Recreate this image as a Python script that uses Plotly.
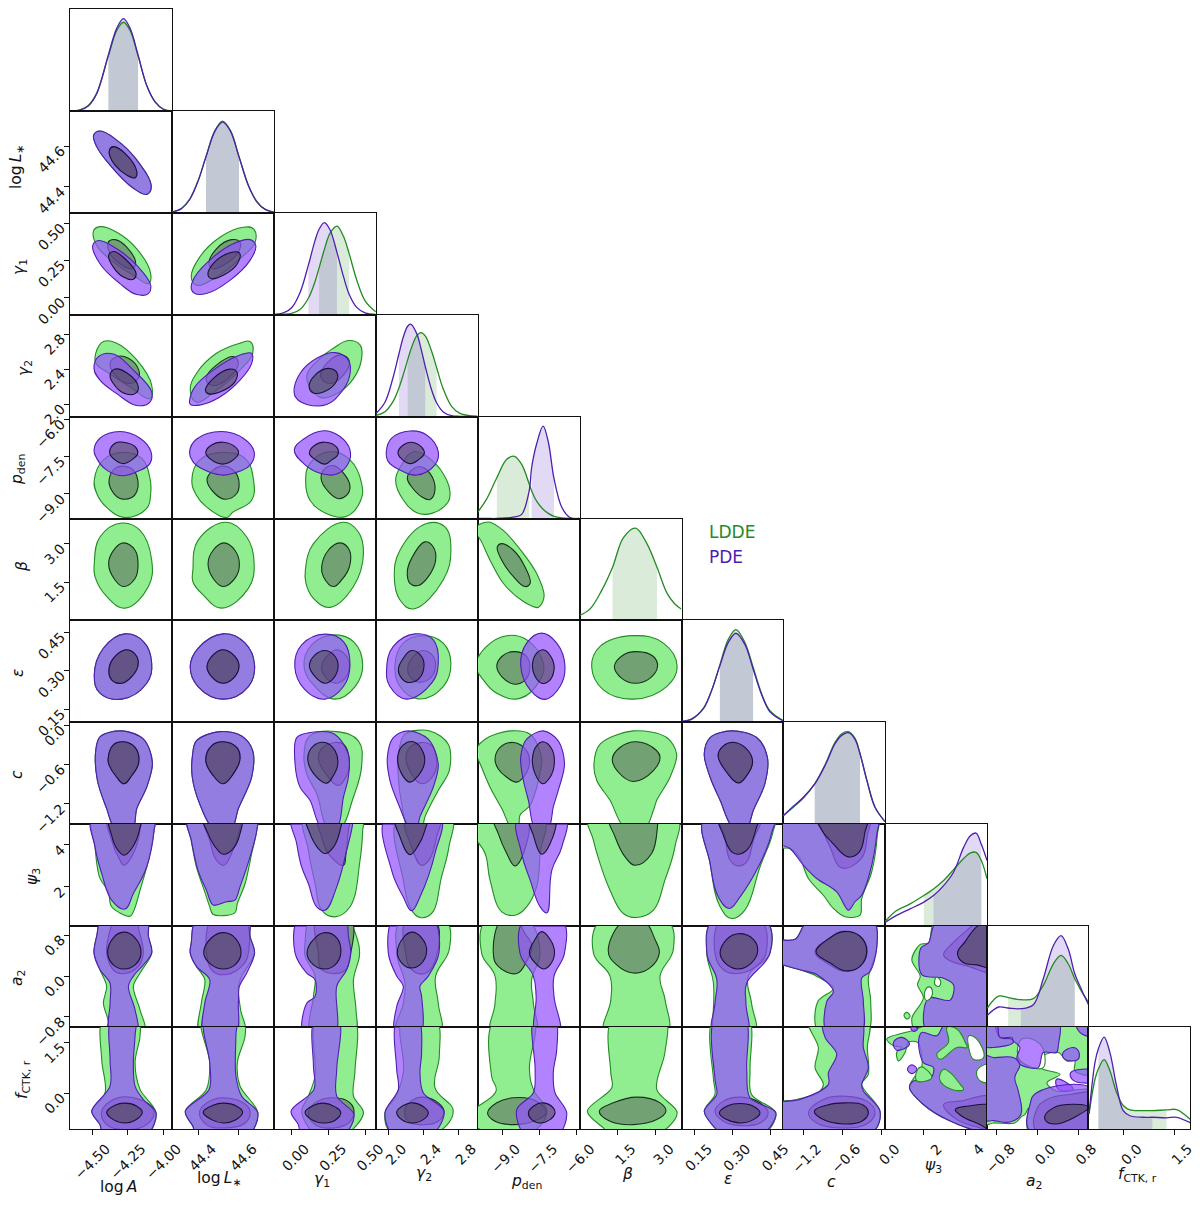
import plotly.graph_objects as go

# ---------- parameters, axis ranges, ticks ----------
params = ["A", "Ls", "g1", "g2", "p", "b", "e", "c", "psi", "a2", "f"]
lo_vals = [-4.655, 44.273, -0.114, 1.859, -9.985, 0.004, 0.101, -1.505, 0.157, -0.996, -1.07]
hi_vals = [-3.937, 44.771, 0.569, 3.023, -5.887, 4.0, 0.498, 0.05, 5.0, 0.99, 1.97]
tick_vals = [[-4.5, -4.25, -4.0], [44.4, 44.6], [0, 0.25, 0.5], [2.0, 2.4, 2.8], [-9, -7.5, -6],
             [1.5, 3.0], [0.15, 0.30, 0.45], [-1.2, -0.6, 0], [2, 4], [-0.8, 0, 0.8], [0, 1.5]]
tick_text = [["−4.50", "−4.25", "−4.00"], ["44.4", "44.6"], ["0.00", "0.25", "0.50"], ["2.0", "2.4", "2.8"],
             ["−9.0", "−7.5", "−6.0"], ["1.5", "3.0"], ["0.15", "0.30", "0.45"], ["−1.2", "−0.6", "0.0"],
             ["2", "4"], ["−0.8", "0.0", "0.8"], ["0.0", "1.5"]]
labels = ["log\u2009<i>A</i>", "log\u2009<i>L</i><sub>∗</sub>", "<i>γ</i><sub>1</sub>", "<i>γ</i><sub>2</sub>",
          "<i>p</i><sub>den</sub>", "<i>β</i>", "<i>ε</i>", "<i>c</i>", "<i>ψ</i><sub>3</sub>",
          "<i>a</i><sub>2</sub>", "<i>f</i><sub>CTK, r</sub>"]
x_label_pos = [(118, 1187), (219, 1179), (322, 1180), (424, 1174), (526, 1182), (627, 1174), (728, 1179),
               (831, 1182), (933, 1166), (1034, 1182), (1137, 1175)]
y_label_pos = [None, (17, 167), (20, 267), (25, 368), (18, 470), (22, 567), (18, 673), (17, 775), (33, 877),
               (18, 978), (23, 1080)]

# ---------- marginals: shared x grid, LDDE and PDE density, 16-84% bands ----------
X_A = [-4.65, -4.584, -4.526, -4.467, -4.385, -4.326, -4.279, -4.232, -4.176, -4.115, -4.056, -4.0, -3.94]
LD_A = [0, .012, .055, .175, .54, .79, .87, .79, .54, .25, .09, .02, 0]
PD_A = [0, .01, .05, .17, .55, .81, .905, .81, .55, .25, .09, .02, 0]
X_Ls = [44.274, 44.319, 44.359, 44.4, 44.439, 44.482, 44.52, 44.559, 44.6, 44.646, 44.687, 44.728, 44.772]
LD_Ls = [.01, .045, .135, .315, .555, .805, .9, .805, .555, .27, .115, .035, .008]
PD_Ls = [.01, .043, .13, .31, .55, .8, .89, .8, .55, .27, .11, .035, .008]
X_g1 = [-.112, -.051, .004, .06, .116, .161, .188, .223, .261, .308, .351, .389, .44, .496, .567]
LD_g1 = [0, .002, .011, .049, .16, .325, .46, .64, .8, .87, .77, .6, .34, .135, .026]
PD_g1 = [0, .015, .067, .215, .486, .73, .84, .905, .835, .61, .375, .2, .07, .016, .001]
X_g2 = [1.859, 1.962, 2.057, 2.122, 2.172, 2.222, 2.256, 2.325, 2.374, 2.424, 2.497, 2.554, 2.63, 2.726, 2.821, 3.024]
LD_g2 = [.01, .046, .15, .28, .41, .555, .65, .79, .823, .79, .64, .48, .27, .1, .03, 0]
PD_g2 = [.03, .14, .39, .615, .78, .885, .905, .815, .67, .49, .26, .135, .045, .008, .002, 0]
X_p = [-9.98, -9.62, -9.21, -8.81, -8.5, -8.21, -7.91, -7.81, -7.61, -7.35, -7.14, -6.91, -6.6, -6.27, -5.89]
LD_p = [.06, .19, .4, .58, .61, .53, .34, .27, .17, .09, .05, .02, .005, 0, 0]
PD_p = [0, 0, 0, .005, .015, .04, .27, .5, .73, .905, .75, .39, .11, .01, 0]
X_b = [.01, .42, .87, 1.3, 1.72, 2.2, 2.63, 3.04, 3.42, 3.74, 3.99]
LD_b = [.046, .11, .29, .52, .81, .905, .76, .52, .27, .157, .108]
PD_b = None
X_e = [.101, .141, .187, .219, .251, .284, .314, .349, .381, .414, .447, .499]
LD_e = [.004, .026, .13, .31, .56, .81, .905, .78, .54, .28, .11, .013]
PD_e = [.006, .03, .135, .31, .55, .78, .87, .76, .52, .27, .1, .01]
X_c = [-1.5, -1.347, -1.194, -1.022, -.864, -.712, -.61, -.509, -.407, -.331, -.219, -.102, .05]
LD_c = [.082, .165, .255, .39, .58, .8, .885, .905, .84, .69, .41, .164, .023]
PD_c = [.082, .174, .262, .393, .574, .787, .869, .895, .83, .689, .41, .164, .023]
X_psi = [.16, .71, 1.35, 2.0, 2.46, 2.94, 3.41, 3.89, 4.21, 4.48, 4.73, 5.0]
LD_psi = [.04, .147, .213, .295, .36, .443, .55, .66, .715, .72, .64, .46]
PD_psi = [.03, .1, .164, .23, .295, .393, .525, .77, .885, .91, .80, .64]
X_a2 = [-.99, -.77, -.58, -.33, -.085, .11, .31, .46, .6, .73, .87, 1.0]
LD_a2 = [.187, .305, .289, .269, .279, .41, .623, .705, .623, .475, .344, .246]
PD_a2 = [.115, .197, .187, .18, .22, .475, .803, .9, .77, .525, .36, .22]
X_f = [-1.04, -.86, -.76, -.59, -.42, -.22, -.02, .18, .58, .85, 1.27, 1.57, 1.99]
LD_f = [.148, .49, .59, .68, .574, .36, .23, .187, .18, .18, .187, .19, .09]
PD_f = [.148, .656, .787, .9, .754, .426, .18, .13, .115, .115, .11, .115, .06]

band_L = [(-4.385, -4.176), (44.439, 44.6), (.188, .389), (2.222, 2.554), (-9.21, -7.91), (1.3, 3.04),
          (.251, .381), (-1.022, -.331), (2.0, 4.73), (-.58, .73), (-.76, 1.27)]
band_P = [(-4.385, -4.176), (44.439, 44.6), (.116, .308), (2.122, 2.424), (-7.81, -6.91), None,
          (.251, .381), (-1.022, -.331), (2.46, 4.73), (-.33, .73), (-.76, .85)]

# ---------- joint contours, flat x,y pairs in data units: model + level + row + column ----------
L95_Ls_A = [-4.488,44.654, -4.444,44.673, -4.326,44.629, -4.185,44.532, -4.083,44.401, -4.115,44.364, -4.211,44.395, -4.373,44.507, -4.467,44.597]
L68_Ls_A = [-4.378,44.58, -4.35,44.597, -4.268,44.564, -4.185,44.475, -4.197,44.445, -4.256,44.458, -4.338,44.507, -4.373,44.548]
P95_Ls_A = L95_Ls_A
P68_Ls_A = L68_Ls_A

L95_g1_A = [-4.488,.451, -4.444,.477, -4.326,.44, -4.185,.328, -4.087,.161, -4.103,.094, -4.209,.15, -4.35,.239, -4.467,.35]
L68_g1_A = [-4.385,.373, -4.338,.39, -4.256,.339, -4.193,.228, -4.22,.194, -4.303,.228, -4.373,.295]
P95_g1_A = [-4.495,.35, -4.455,.384, -4.326,.328, -4.185,.217, -4.087,.083, -4.103,.027, -4.185,.02, -4.303,.094, -4.444,.228]
P68_g1_A = [-4.383,.283, -4.35,.31, -4.268,.261, -4.19,.161, -4.209,.123, -4.279,.138, -4.35,.205]
L95_g1_Ls = [44.367,.138, 44.408,.272, 44.507,.406, 44.621,.473, 44.671,.462, 44.679,.373, 44.605,.261, 44.49,.138, 44.392,.083]
L68_g1_Ls = [44.454,.228, 44.49,.328, 44.564,.39, 44.605,.373, 44.592,.295, 44.523,.217, 44.474,.194]
P95_g1_Ls = [44.367,.06, 44.384,.138, 44.474,.272, 44.572,.362, 44.654,.39, 44.682,.35, 44.654,.25, 44.556,.116, 44.441,.027, 44.384,.027]
P68_g1_Ls = [44.449,.15, 44.474,.228, 44.556,.301, 44.602,.301, 44.592,.228, 44.523,.15, 44.466,.127]

L95_g2_A = [-4.474,2.58, -4.42,2.715, -4.326,2.696, -4.185,2.504, -4.08,2.216, -4.092,2.062, -4.232,2.196, -4.397,2.369, -4.472,2.465]
L68_g2_A = [-4.373,2.465, -4.326,2.542, -4.244,2.523, -4.171,2.388, -4.176,2.29, -4.244,2.235, -4.326,2.31]
P95_g2_A = [-4.486,2.408, -4.455,2.542, -4.35,2.573, -4.209,2.388, -4.08,2.139, -4.092,2.024, -4.185,1.985, -4.326,2.12, -4.444,2.273]
P68_g2_A = [-4.373,2.331, -4.338,2.4, -4.256,2.358, -4.174,2.196, -4.197,2.12, -4.279,2.127, -4.35,2.235]
L95_g2_Ls = [44.362,2.158, 44.392,2.35, 44.49,2.58, 44.605,2.696, 44.654,2.715, 44.667,2.58, 44.605,2.388, 44.49,2.158, 44.392,2.024]
L68_g2_Ls = [44.441,2.312, 44.49,2.446, 44.572,2.542, 44.597,2.465, 44.564,2.33, 44.49,2.216, 44.449,2.235]
P95_g2_Ls = [44.359,2.043, 44.384,2.196, 44.474,2.388, 44.605,2.561, 44.662,2.58, 44.662,2.465, 44.605,2.273, 44.507,2.081, 44.408,1.989, 44.362,1.997]
P68_g2_Ls = [44.436,2.158, 44.474,2.292, 44.556,2.4, 44.589,2.369, 44.58,2.254, 44.507,2.139, 44.449,2.12]
L95_g2_g1 = [.105,2.31, .194,2.523, .284,2.638, .384,2.726, .462,2.676, .473,2.523, .418,2.292, .306,2.12, .194,2.08]
L68_g2_g1 = [.199,2.31, .25,2.484, .339,2.561, .391,2.484, .351,2.331, .261,2.235]
P95_g2_g1 = [.02,2.139, .06,2.35, .172,2.523, .295,2.588, .384,2.504, .391,2.312, .328,2.12, .239,1.997, .105,1.997, .038,2.062]
P68_g2_g1 = [.121,2.196, .161,2.331, .25,2.408, .31,2.35, .295,2.235, .217,2.139, .15,2.127]

L95_p_A = [-4.484,-8.44, -4.42,-7.63, -4.279,-7.33, -4.15,-7.57, -4.092,-8.37, -4.087,-8.98, -4.115,-9.58, -4.268,-9.95, -4.397,-9.54, -4.467,-8.98]
L68_p_A = [-4.38,-8.44, -4.338,-7.97, -4.279,-7.88, -4.209,-8.04, -4.176,-8.51, -4.185,-8.91, -4.22,-9.14, -4.303,-9.18, -4.362,-8.85]
P95_p_A = [-4.486,-7.23, -4.444,-6.76, -4.303,-6.49, -4.162,-6.76, -4.085,-7.3, -4.092,-7.77, -4.185,-8.11, -4.279,-8.27, -4.397,-8.04, -4.467,-7.57]
P68_p_A = [-4.376,-7.34, -4.338,-6.96, -4.279,-6.92, -4.197,-7.1, -4.178,-7.37, -4.22,-7.63, -4.279,-7.78, -4.338,-7.63]
L95_p_Ls = [44.37,-8.44, 44.408,-7.63, 44.523,-7.33, 44.63,-7.57, 44.671,-8.44, 44.662,-9.25, 44.572,-9.72, 44.539,-9.95, 44.441,-9.52, 44.392,-9.05]
L68_p_Ls = [44.444,-8.44, 44.474,-8.04, 44.526,-7.88, 44.58,-8.11, 44.6,-8.51, 44.589,-8.98, 44.531,-9.21, 44.482,-8.98]
P95_p_Ls = [44.359,-7.3, 44.392,-6.8, 44.515,-6.49, 44.621,-6.76, 44.674,-7.3, 44.654,-7.84, 44.572,-8.17, 44.515,-8.24, 44.425,-8.01, 44.375,-7.7]
P68_p_Ls = [44.438,-7.34, 44.466,-7.03, 44.523,-6.92, 44.58,-7.1, 44.598,-7.34, 44.572,-7.63, 44.52,-7.8, 44.466,-7.63]
L95_p_g1 = [.098,-8.44, .127,-7.77, .261,-7.3, .395,-7.63, .473,-8.58, .467,-9.25, .373,-9.89, .239,-9.79, .127,-9.25]
L68_p_g1 = [.201,-8.37, .228,-7.97, .284,-7.86, .362,-8.24, .395,-8.71, .373,-9.05, .317,-9.19, .25,-8.91]
P95_p_g1 = [.022,-7.23, .083,-6.8, .217,-6.46, .328,-6.69, .395,-7.23, .384,-7.77, .306,-8.2, .194,-8.17, .083,-7.77]
P68_p_g1 = [.123,-7.37, .161,-7.03, .228,-6.92, .306,-7.12, .313,-7.43, .272,-7.63, .228,-7.8, .161,-7.61]
L95_p_g2 = [2.084,-8.44, 2.153,-7.83, 2.287,-7.3, 2.516,-7.70, 2.669,-8.44, 2.707,-8.91, 2.688,-9.31, 2.5,-9.78, 2.325,-9.75, 2.172,-9.24]
L68_p_g2 = [2.218,-8.37, 2.267,-8.04, 2.363,-7.9, 2.478,-8.17, 2.535,-8.84, 2.478,-9.22, 2.382,-9.11, 2.267,-8.71]
P95_p_g2 = [1.977,-7.3, 2.038,-6.76, 2.248,-6.47, 2.439,-6.63, 2.573,-7.3, 2.535,-7.83, 2.325,-8.24, 2.134,-8.04, 2.0,-7.7]
P68_p_g2 = [2.111,-7.34, 2.172,-7.03, 2.267,-6.92, 2.382,-7.12, 2.413,-7.37, 2.344,-7.63, 2.248,-7.78, 2.153,-7.59]

L95_b_A = [-4.484,2.23, -4.444,3.27, -4.291,3.82, -4.162,3.53, -4.08,2.36, -4.103,1.32, -4.268,.47, -4.397,.93, -4.479,1.71]
L68_b_A = [-4.383,2.23, -4.338,2.82, -4.279,3.04, -4.197,2.75, -4.176,2.17, -4.197,1.64, -4.279,1.32, -4.338,1.58]
L95_b_Ls = [44.375,1.97, 44.4,3.14, 44.539,3.85, 44.638,3.27, 44.674,2.23, 44.646,1.25, 44.515,.47, 44.425,.99, 44.375,1.51]
L68_b_Ls = [44.449,2.23, 44.474,2.75, 44.526,3.04, 44.58,2.75, 44.602,2.17, 44.58,1.64, 44.523,1.32, 44.474,1.64]
L95_b_g1 = [.096,1.97, .15,3.01, .351,3.85, .451,3.47, .485,2.62, .418,1.32, .261,.5, .15,.86, .1,1.45]
L68_b_g1 = [.205,2.1, .25,2.75, .328,3.04, .391,2.75, .391,2.1, .339,1.58, .284,1.32, .217,1.71]
L95_b_g2 = [2.069,1.71, 2.134,2.75, 2.439,3.8, 2.649,3.67, 2.718,2.75, 2.63,1.58, 2.287,.44, 2.134,.79]
L68_b_g2 = [2.218,1.9, 2.267,2.43, 2.42,3.08, 2.516,2.88, 2.543,2.36, 2.459,1.71, 2.344,1.36, 2.248,1.45]
L95_b_p = [-10.1,3.6, -9.55,3.86, -8.95,3.53, -8.14,2.62, -7.61,1.84, -7.31,.93, -7.54,.5, -8.14,.73, -8.95,1.45, -9.48,2.36, -9.82,3.08]
L68_b_p = [-9.19,2.88, -9.01,3.01, -8.54,2.75, -8.08,2.1, -7.87,1.45, -8.08,1.32, -8.54,1.71, -9.01,2.36]

L95_e_A = [-4.484,.284, -4.42,.388, -4.268,.444, -4.138,.414, -4.08,.33, -4.115,.252, -4.291,.19, -4.444,.213]
L68_e_A = [-4.38,.31, -4.338,.356, -4.256,.382, -4.185,.356, -4.178,.317, -4.22,.278, -4.291,.252, -4.362,.265]
P95_e_A = L95_e_A
P68_e_A = L68_e_A
L95_e_Ls = [44.362,.317, 44.4,.388, 44.523,.444, 44.63,.408, 44.676,.323, 44.646,.239, 44.523,.19, 44.4,.239]
L68_e_Ls = [44.444,.317, 44.474,.362, 44.523,.382, 44.58,.356, 44.6,.317, 44.572,.271, 44.52,.252, 44.466,.278]
P95_e_Ls = L95_e_Ls
P68_e_Ls = L68_e_Ls
L95_e_g1 = [.087,.317, .138,.401, .284,.44, .418,.414, .48,.323, .429,.239, .295,.19, .161,.239]
L68_e_g1 = [.205,.32, .25,.362, .306,.382, .373,.356, .391,.317, .362,.271, .295,.252, .228,.278]
P95_e_g1 = [.025,.317, .071,.401, .228,.443, .351,.414, .395,.323, .351,.239, .228,.19, .094,.226]
P68_e_g1 = [.123,.32, .161,.362, .228,.379, .295,.356, .315,.317, .284,.271, .228,.252, .161,.278]
L95_e_g2 = [2.076,.323, 2.172,.408, 2.401,.437, 2.63,.408, 2.718,.33, 2.63,.239, 2.344,.191, 2.134,.239]
L68_e_g2 = [2.222,.31, 2.287,.356, 2.401,.379, 2.516,.356, 2.539,.31, 2.478,.271, 2.344,.256, 2.248,.278]
P95_e_g2 = [1.981,.31, 2.057,.395, 2.306,.444, 2.516,.421, 2.573,.33, 2.497,.252, 2.21,.19, 2.019,.239]
P68_e_g2 = [2.115,.304, 2.172,.349, 2.267,.379, 2.382,.356, 2.409,.317, 2.355,.271, 2.229,.255, 2.153,.271]
L95_e_p = [-10.05,.321, -9.62,.395, -8.81,.437, -8.01,.421, -7.34,.33, -7.47,.265, -8.28,.193, -9.21,.213, -9.75,.265]
L68_e_p = [-9.21,.317, -9.01,.356, -8.54,.375, -8.01,.356, -7.9,.297, -8.14,.258, -8.54,.249, -9.01,.278]
P95_e_p = [-8.25,.323, -8.01,.408, -7.41,.447, -6.8,.408, -6.47,.317, -6.67,.239, -7.27,.189, -7.87,.226]
P68_e_p = [-7.78,.32, -7.61,.369, -7.34,.382, -7,.349, -6.91,.304, -7.14,.258, -7.41,.252, -7.67,.278]
L95_e_b = [.48,.317, .81,.395, 2.11,.437, 3.29,.408, 3.83,.317, 3.42,.239, 2.11,.19, .94,.226]
L68_e_b = [1.37,.317, 1.72,.362, 2.24,.375, 2.9,.356, 3.06,.317, 2.76,.271, 2.18,.252, 1.66,.271]

L95_c_A = [-4.474,-.388, -4.444,-.177, -4.291,-.086, -4.138,-.212, -4.075,-.565, -4.115,-.943, -4.185,-1.27, -4.214,-1.57, -4.338,-1.57, -4.397,-1.27, -4.462,-.842]
L68_c_A = [-4.387,-.514, -4.35,-.298, -4.279,-.252, -4.197,-.338, -4.171,-.565, -4.22,-.766, -4.275,-.892, -4.326,-.792, -4.378,-.615]
P95_c_A = L95_c_A
P68_c_A = L68_c_A
L95_c_Ls = [44.372,-.489, 44.392,-.237, 44.507,-.096, 44.613,-.162, 44.667,-.388, 44.662,-.792, 44.597,-1.27, 44.564,-1.57, 44.474,-1.57, 44.408,-1.195, 44.372,-.792]
L68_c_Ls = [44.438,-.54, 44.466,-.313, 44.523,-.252, 44.589,-.338, 44.605,-.514, 44.572,-.741, 44.523,-.892, 44.474,-.766]
P95_c_Ls = L95_c_Ls
P68_c_Ls = L68_c_Ls
L95_c_g1 = [.087,-.439, .127,-.162, .306,-.096, .451,-.237, .473,-.615, .418,-1.094, .328,-1.57, .25,-1.57, .172,-1.044, .105,-.741]
L68_c_g1 = [.183,-.489, .228,-.313, .351,-.288, .391,-.565, .373,-.766, .317,-.918, .25,-.792]
P95_c_g1 = [.027,-.59, .038,-.187, .127,-.111, .284,-.126, .384,-.439, .384,-.792, .351,-1.094, .306,-1.57, .205,-1.57, .127,-1.144, .06,-.943]
P68_c_g1 = [.112,-.514, .15,-.313, .228,-.262, .295,-.388, .313,-.59, .284,-.766, .239,-.882, .172,-.792]
L95_c_g2 = [2.115,-.439, 2.191,-.136, 2.478,-.086, 2.688,-.288, 2.699,-.691, 2.573,-.993, 2.42,-1.396, 2.382,-1.57, 2.229,-1.57, 2.153,-1.195, 2.115,-.792]
L68_c_g2 = [2.202,-.489, 2.267,-.313, 2.478,-.288, 2.554,-.514, 2.516,-.766, 2.382,-.892, 2.267,-.741]
P95_c_g2 = [1.989,-.489, 2.057,-.187, 2.229,-.086, 2.458,-.212, 2.573,-.59, 2.516,-.943, 2.363,-1.396, 2.325,-1.57, 2.248,-1.57, 2.115,-1.195, 2.019,-.842]
P68_c_g2 = [2.107,-.489, 2.172,-.298, 2.287,-.252, 2.401,-.414, 2.413,-.59, 2.344,-.766, 2.248,-.867, 2.153,-.741]
L95_c_p = [-10.05,-.388, -9.68,-.212, -8.68,-.086, -7.87,-.136, -7.41,-.489, -7.54,-.842, -7.87,-1.22, -8.28,-1.37, -8.34,-1.57, -8.61,-1.57, -9.01,-1.27, -9.48,-.943, -9.82,-.64]
L68_c_p = [-9.28,-.514, -9.08,-.338, -8.54,-.262, -8.01,-.388, -7.9,-.59, -8.14,-.792, -8.41,-.867, -8.81,-.792, -9.15,-.666]
P95_c_p = [-8.25,-.489, -8.01,-.212, -7.34,-.086, -6.74,-.237, -6.49,-.59, -6.74,-.993, -6.94,-1.245, -7.14,-1.57, -7.67,-1.57, -7.94,-1.144, -8.14,-.842]
P68_c_p = [-7.78,-.514, -7.61,-.313, -7.34,-.252, -7,-.363, -6.9,-.59, -7.07,-.792, -7.37,-.892, -7.67,-.741]
L95_c_b = [.57,-.59, .81,-.287, 2.11,-.086, 3.42,-.187, 3.81,-.439, 3.55,-.792, 3.03,-1.144, 2.9,-1.296, 2.57,-1.57, 1.79,-1.57, 1.2,-1.144, .68,-.842]
L68_c_b = [1.29,-.514, 1.59,-.338, 2.24,-.252, 3.03,-.388, 3.16,-.489, 2.9,-.691, 2.11,-.857, 1.53,-.716]
L95_c_e = [.19,-.439, .213,-.187, .297,-.086, .395,-.187, .437,-.489, .427,-.892, .382,-1.295, .356,-1.57, .304,-1.57, .252,-1.144, .213,-.792]
L68_c_e = [.244,-.464, .265,-.313, .31,-.262, .362,-.388, .379,-.565, .356,-.768, .323,-.879, .278,-.716]
P95_c_e = L95_c_e
P68_c_e = L68_c_e

L95_psi_A = [-4.495,5.33, -4.479,3.9, -4.448,2.48, -4.385,1.76, -4.362,1.05, -4.232,.6, -4.204,.89, -4.162,1.84, -4.103,3.27, -4.063,4.7, -4.063,5.33]
L68_psi_A = [-4.385,5.33, -4.362,4.22, -4.303,3.27, -4.275,3.03, -4.209,3.59, -4.162,4.7, -4.162,5.33]
P95_psi_A = [-4.495,5.33, -4.479,3.9, -4.432,2.64, -4.362,1.37, -4.268,.94, -4.209,1.68, -4.115,2.95, -4.063,4.7, -4.063,5.33]
P68_psi_A = [-4.378,5.33, -4.362,4.46, -4.326,3.83, -4.275,3.51, -4.221,3.83, -4.167,4.7, -4.162,5.33]
L95_psi_Ls = [44.349,5.33, 44.367,4.22, 44.392,2.95, 44.433,1.76, 44.457,1.05, 44.474,.68, 44.58,.76, 44.592,1.21, 44.63,2.16, 44.662,3.59, 44.687,4.7, 44.687,5.33]
L68_psi_Ls = [44.433,5.33, 44.457,4.22, 44.49,3.27, 44.526,3.03, 44.564,3.59, 44.602,4.7, 44.605,5.33]
P95_psi_Ls = [44.349,5.33, 44.367,4.22, 44.4,2.79, 44.441,1.84, 44.474,1.13, 44.539,1.29, 44.58,1.37, 44.605,2.0, 44.654,3.43, 44.687,4.7, 44.687,5.33]
P68_psi_Ls = [44.428,5.33, 44.449,4.54, 44.49,3.83, 44.523,3.56, 44.572,3.83, 44.605,4.54, 44.608,5.33]
L95_psi_g1 = [.094,5.33, .116,3.75, .161,2.16, .205,.89, .295,.57, .395,1.05, .462,3.27, .48,4.7, .48,5.33]
L68_psi_g1 = [.183,5.33, .205,4.38, .25,3.59, .351,3.03, .368,3.59, .384,4.7, .391,5.33]
P95_psi_g1 = [.011,5.33, .038,4.06, .071,2.95, .116,2.16, .172,1.05, .228,.89, .306,2.0, .373,3.75, .413,5.02, .413,5.33]
P68_psi_g1 = [.105,5.33, .127,4.54, .183,3.83, .228,3.59, .284,3.9, .328,4.7, .333,5.33]
L95_psi_g2 = [2.115,5.33, 2.172,2.32, 2.267,.89, 2.363,.54, 2.497,.73, 2.611,2.48, 2.695,3.9, 2.718,5.33]
L68_psi_g2 = [2.202,5.33, 2.267,3.9, 2.382,3.03, 2.478,3.35, 2.554,4.38, 2.592,5.33]
P95_psi_g2 = [1.973,5.33, 2.038,2.79, 2.172,1.52, 2.267,.86, 2.363,1.52, 2.535,3.59, 2.592,5.33]
P68_psi_g2 = [2.088,5.33, 2.134,4.38, 2.248,3.54, 2.344,3.98, 2.42,4.7, 2.439,5.33]
L95_psi_p = [-10.2,5.33, -10.2,4.6, -9.68,3.59, -9.48,2.32, -9.01,.81, -8.47,.65, -8.01,1.05, -7.61,2.0, -7.47,3.59, -7.34,5.33]
L68_psi_p = [-9.32,5.33, -9.15,4.54, -8.81,3.59, -8.48,3, -8.14,3.59, -8.01,5.33]
P95_psi_p = [-8.34,5.33, -8.21,3.59, -7.87,2.32, -7.47,1.05, -7.2,.76, -7,2.79, -6.6,3.9, -6.47,5.33]
P68_psi_p = [-7.9,5.33, -7.74,4.46, -7.41,3.56, -7.07,4.06, -6.89,5.33]
L95_psi_b = [.39,5.33, .55,4.22, .81,3.11, 1.2,1.84, 1.72,.73, 2.24,.54, 2.9,.89, 3.35,2.32, 3.74,3.9, 3.81,5.33]
L68_psi_b = [1.2,5.33, 1.4,4.38, 1.79,3.43, 2.18,3.03, 2.83,3.59, 3.09,5.17, 3.13,5.33]
L95_psi_e = [.193,5.33, .213,3.11, .252,1.05, .297,.49, .349,.89, .408,2.95, .457,4.54, .462,5.33]
L68_psi_e = [.252,5.33, .271,4.38, .291,3.27, .323,3, .356,3.19, .382,4.22, .408,5.33]
P95_psi_e = [.193,5.33, .213,3.11, .245,1.52, .288,.97, .33,1.52, .408,3.11, .453,4.54, .46,5.33]
P68_psi_e = [.249,5.33, .265,4.46, .297,3.67, .323,3.56, .362,3.83, .395,4.86, .405,5.33]
L95_psi_c = [-1.6,3.9, -1.4,3.83, -1.245,3.35, -1.118,2.4, -.89,1.6, -.737,.97, -.559,.57, -.331,.65, -.305,1.44, -.153,2.71, -.067,4.46, -.067,5.41, -1.6,5.41]
L68_psi_c = [-.981,5.41, -.89,4.62, -.788,3.9, -.61,2.9, -.305,3.38, -.219,4.46, -.189,5.41]
P95_psi_c = [-1.6,4.14, -1.4,3.83, -1.194,3.03, -.991,2.4, -.686,1.76, -.508,.89, -.407,1.29, -.305,1.6, -.178,2.71, -.077,4.46, -.067,5.41, -1.6,5.41]
P68_psi_c = [-.981,5.41, -.915,4.7, -.763,4.14, -.509,3.43, -.341,3.67, -.255,4.62, -.219,5.41]

L95_a2_A = [-4.432,1.11, -4.467,.78, -4.486,.45, -4.444,.125, -4.397,-.2, -4.42,-.53, -4.385,-.92, -4.42,-1.12, -4.127,-1.12, -4.162,-.66, -4.209,-.2, -4.162,.06, -4.08,.45, -4.103,.78, -4.115,1.11]
L68_a2_A = [-4.36,1.15, -4.362,1.04, -4.397,.45, -4.338,.09, -4.268,.05, -4.174,.19, -4.139,.45, -4.174,.98, -4.17,1.15]
P95_a2_A = [-4.432,1.11, -4.467,.78, -4.486,.45, -4.444,.125, -4.373,-.14, -4.373,-.53, -4.373,-1.12, -4.181,-1.12, -4.197,-.66, -4.244,-.2, -4.209,0, -4.08,.45, -4.103,.78, -4.115,1.11]
P68_a2_A = [-4.39,.45, -4.35,.75, -4.279,.86, -4.197,.75, -4.155,.45, -4.197,.22, -4.279,.14, -4.35,.22]
L95_a2_Ls = [44.392,1.11, 44.367,.65, 44.362,.45, 44.392,.19, 44.433,-.07, 44.416,-.53, 44.408,-1.12, 44.63,-1.12, 44.608,-.66, 44.597,-.2, 44.613,0, 44.676,.45, 44.654,.78, 44.646,1.11]
L68_a2_Ls = [44.474,1.15, 44.441,.45, 44.474,.09, 44.539,.03, 44.613,.19, 44.646,.45, 44.621,1.15]
P95_a2_Ls = [44.392,1.11, 44.367,.65, 44.362,.45, 44.392,.19, 44.457,-.07, 44.433,-.53, 44.428,-1.12, 44.585,-1.12, 44.597,-.53, 44.602,-.2, 44.638,.06, 44.676,.45, 44.654,.78, 44.646,1.11]
P68_a2_Ls = [44.428,.45, 44.466,.75, 44.526,.85, 44.58,.75, 44.61,.45, 44.58,.22, 44.526,.14, 44.466,.22]
L95_a2_g1 = [.127,1.11, .094,.65, .094,.39, .161,0, .15,-.4, .134,-1.12, .429,-1.12, .435,-.66, .418,-.07, .458,.39, .451,.65, .373,1.11]
L68_a2_g1 = [.176,1.15, .183,.45, .205,.125, .351,.09, .395,.39, .395,1.15]
P95_a2_g1 = [.049,1.11, .027,.45, .105,.06, .161,-.07, .161,-.4, .105,-.53, .083,-1.12, .295,-1.12, .306,-.2, .373,.125, .4,.45, .384,.78, .362,1.11]
P68_a2_g1 = [.107,.45, .161,.75, .228,.85, .306,.75, .333,.45, .295,.22, .228,.14, .15,.22]
L95_a2_g2 = [2.153,1.11, 2.096,.45, 2.191,-.14, 2.172,-.53, 2.096,-1.12, 2.592,-1.12, 2.573,-.53, 2.543,0, 2.699,.52, 2.65,1.11]
L68_a2_g2 = [2.21,1.11, 2.199,.45, 2.267,.125, 2.42,.05, 2.542,.32, 2.535,1.11]
P95_a2_g2 = [2.057,1.11, 2.0,.45, 2.096,0, 2.172,-.2, 2.096,-.6, 2.076,-1.12, 2.371,-1.12, 2.382,-.4, 2.363,-.2, 2.458,0, 2.581,.45, 2.516,1.11]
P68_a2_g2 = [2.103,.45, 2.172,.75, 2.267,.86, 2.382,.75, 2.44,.49, 2.363,.22, 2.248,.16, 2.153,.26]
L95_a2_p = [-9.62,1.11, -9.82,.45, -9.28,0, -9.28,-.53, -9.42,-1.12, -7.67,-1.12, -7.74,-.53, -7.81,-.07, -7.47,.45, -7.99,1.11]
L68_a2_p = [-9.01,1.11, -9.35,.45, -9.15,.19, -8.41,.05, -8.0,.3, -7.8,.6, -8.1,.85, -8.41,1.11]
P95_a2_p = [-8.08,1.11, -8.28,.45, -7.74,0, -7.63,-.4, -7.63,-1.12, -6.71,-1.12, -6.91,-.4, -6.91,0, -6.49,.45, -6.6,1.11]
P68_a2_p = [-7.9,.45, -7.67,.72, -7.41,.87, -7.07,.72, -6.89,.45, -7.07,.22, -7.34,.14, -7.67,.26]
L95_a2_b = [.87,1.11, .55,.45, 1.2,0, 1.23,-.47, 1.0,-1.12, 3.42,-1.12, 3.36,-.47, 3.16,0, 3.68,.52, 3.42,1.11]
L68_a2_b = [1.79,1.11, 1.13,.49, 1.46,.22, 2.11,.06, 2.76,.16, 3.13,.45, 2.96,.72, 2.5,1.11]
L95_a2_e = [.226,1.11, .2,.45, .226,-.14, .223,-1, .226,-1.12, .386,-1.12, .375,-.53, .362,0, .447,.45, .427,1.11]
L68_a2_e = [.258,1.11, .232,.45, .265,.125, .323,.05, .408,.26, .434,.52, .408,1.11]
P95_a2_e = [.226,1.11, .2,.45, .239,-.07, .232,-.53, .226,-1.12, .356,-1.12, .353,-.53, .356,-.14, .447,.45, .427,1.11]
P68_a2_e = [.252,.45, .278,.72, .323,.83, .382,.72, .399,.49, .375,.26, .323,.14, .271,.26]
L95_a2_c = [-1.65,.68, -1.32,.72, -1.12,1.08, -.13,1.08, -.077,.55, -.204,-.04, -.168,-.5, -.219,-1.09, -.966,-1.09, -.976,-.5, -.737,-.24, -1.042,.03, -1.245,.125, -1.65,.32]
L68_a2_c = [-1.017,.47, -.788,.75, -.585,.88, -.331,.78, -.219,.49, -.331,.19, -.559,.09, -.788,.22]
P95_a2_c = [-1.65,.68, -1.32,.72, -1.12,1.08, -.13,1.08, -.077,.55, -.178,.09, -.305,-.04, -.28,-.5, -.305,-1.09, -.839,-1.09, -.839,-.5, -.737,-.3, -.991,.03, -1.245,.125, -1.65,.32]
P68_a2_c = [-1.001,.47, -.788,.75, -.585,.87, -.331,.78, -.229,.49, -.331,.19, -.559,.105, -.788,.26]
L95_a2_psi = [2.54,1.08, 2.22,.65, 1.83,.62, 1.43,.32, 1.83,0, 1.7,-.17, 1.98,-.43, 1.43,-.83, 1.67,-1.09, 5.32,-1.09, 5.32,1.08]
L95_a2_psi_b = [1.06,-.76, 1.19,-.71, 1.35,-.79, 1.19,-.84]
L68_a2_psi = [2.94,.42, 3.41,.66, 4.05,.9, 4.68,1.08, 5.32,1.08, 5.32,.1, 4.05,.2, 3.25,.3]
P95_a2_psi = [2.62,1.08, 2.22,.65, 1.86,.55, 1.9,.03, 2.94,-.04, 3.41,-.17, 3.25,-.47, 2.22,-.43, 2.14,-1.09, 5.32,-1.09, 5.32,1.08]
P68_a2_psi = [3.6,.45, 3.97,.68, 4.44,.94, 5.0,1.08, 5.32,1.08, 5.32,.17, 4.52,.22, 3.89,.26]
W_a2_psi = [2.26,-.21, 2.4,-.28, 2.3,-.44, 2.1,-.47, 2.05,-.3]
W_a2_psi_b = [2.6,-.02, 2.8,-.1, 2.72,-.2, 2.52,-.16]

L95_f_A = [-4.42,2.2, -4.432,1.0, -4.408,.01, -4.502,-.54, -4.444,-.94, -4.42,-1.24, -4.115,-1.24, -4.049,-.59, -4.162,.11, -4.197,.91, -4.162,1.71, -4.174,2.2]
L68_f_A = [-4.432,-.54, -4.35,-.19, -4.268,-.11, -4.115,-.29, -4.063,-.54, -4.115,-.94, -4.268,-1.09, -4.397,-.94]
P95_f_A = [-4.362,2.2, -4.373,1.0, -4.373,.21, -4.502,-.54, -4.444,-.94, -4.42,-1.24, -4.115,-1.24, -4.049,-.59, -4.139,-.19, -4.197,.21, -4.209,.91, -4.197,1.71, -4.197,2.2]
P68_f_A = [-4.397,-.57, -4.338,-.36, -4.268,-.3, -4.185,-.39, -4.146,-.57, -4.197,-.81, -4.268,-.89, -4.35,-.79]
L95_f_Ls = [44.421,2.2, 44.457,.91, 44.441,.11, 44.338,-.54, 44.375,-.99, 44.392,-1.24, 44.646,-1.24, 44.692,-.59, 44.605,.21, 44.592,.91, 44.63,1.71, 44.621,2.2]
L68_f_Ls = [44.408,-.54, 44.474,-.19, 44.523,-.14, 44.621,-.29, 44.654,-.54, 44.63,-.89, 44.523,-1.04, 44.441,-.94]
P95_f_Ls = [44.433,2.2, 44.457,.91, 44.454,.11, 44.338,-.54, 44.375,-.99, 44.392,-1.24, 44.646,-1.24, 44.692,-.59, 44.613,-.09, 44.585,.51, 44.585,1.71, 44.585,2.2]
P68_f_Ls = [44.425,-.57, 44.474,-.36, 44.523,-.3, 44.589,-.39, 44.618,-.57, 44.58,-.81, 44.523,-.89, 44.466,-.79]
L95_f_g1 = [.172,2.2, .161,.51, .116,-.09, .071,-.54, .127,-1.09, .161,-1.24, .362,-1.24, .485,-.59, .418,-.09, .429,.71, .422,2.2]
L68_f_g1 = [.116,-.59, .161,-.29, .284,-.14, .395,-.29, .422,-.59, .384,-.89, .284,-1.04, .161,-.94]
P95_f_g1 = [.161,2.2, .15,.81, .154,.11, 0,-.54, .049,-.94, .071,-1.24, .351,-1.24, .422,-.64, .306,-.09, .306,.71, .317,2.2]
P68_f_g1 = [.094,-.57, .15,-.37, .217,-.3, .295,-.41, .333,-.57, .295,-.81, .217,-.89, .138,-.79]
L95_f_g2 = [2.172,2.21, 2.172,.61, 2.076,-.14, 1.962,-.59, 2.057,-1.24, 2.516,-1.24, 2.745,-.54, 2.535,.16, 2.585,1.11, 2.535,2.21]
L68_f_g2 = [2.191,-.49, 2.287,-.19, 2.401,-.12, 2.573,-.29, 2.639,-.54, 2.573,-.84, 2.363,-.94, 2.229,-.84]
P95_f_g2 = [2.103,2.21, 2.096,.71, 2.115,.11, 1.962,-.59, 2.057,-1.24, 2.497,-1.24, 2.639,-.54, 2.401,.01, 2.363,.61, 2.382,1.21, 2.344,2.21]
P68_f_g2 = [2.096,-.57, 2.172,-.37, 2.287,-.29, 2.42,-.44, 2.459,-.59, 2.401,-.79, 2.267,-.89, 2.153,-.79]
L95_f_p = [-9.28,2.21, -9.42,.51, -9.24,.06, -10.29,-.69, -9.42,-1.24, -8.01,-1.24, -7.2,-.59, -7.74,.11, -7.9,.71, -7.77,2.21]
L68_f_p = [-9.58,-.59, -9.21,-.29, -8.54,-.14, -7.61,-.24, -7.23,-.59, -7.74,-.84, -8.54,-.94, -9.28,-.84]
P95_f_p = [-7.71,2.21, -7.67,.71, -7.74,.01, -8.41,-.49, -8.08,-1.24, -6.74,-1.24, -6.4,-.59, -6.87,.01, -6.94,.61, -6.8,1.31, -6.87,2.21]
P68_f_p = [-7.94,-.59, -7.74,-.39, -7.34,-.29, -6.94,-.44, -6.87,-.59, -7.07,-.79, -7.47,-.89, -7.81,-.79]
L95_f_b = [1.29,2.21, 1.23,.61, 1.27,.16, .31,-.54, .94,-1.04, 1.2,-1.24, 3.03,-1.24, 3.83,-.59, 3.03,.11, 3.35,1.21, 3.35,2.21]
L68_f_b = [.78,-.54, 1.33,-.29, 2.24,-.12, 3.16,-.29, 3.39,-.54, 3.03,-.79, 2.11,-.94, 1.2,-.84]
L95_f_e = [.226,2.21, .226,.41, .232,-.04, .19,-.54, .232,-1.04, .258,-1.24, .421,-1.24, .47,-.59, .375,-.04, .369,.71, .362,2.21]
L68_f_e = [.232,-.54, .265,-.24, .33,-.12, .408,-.29, .44,-.59, .408,-.89, .33,-.97, .265,-.84]
P95_f_e = [.232,2.21, .232,.41, .239,-.04, .19,-.54, .232,-1.04, .258,-1.24, .414,-1.24, .47,-.59, .369,-.14, .356,.71, .349,2.21]
P68_f_e = [.249,-.59, .284,-.37, .33,-.31, .382,-.39, .408,-.59, .382,-.79, .33,-.89, .278,-.79]
L95_f_c = [-1.118,2.16, -.966,1.36, -1.017,.76, -.89,.26, -.966,.01, -1.296,-.19, -1.65,-.34, -1.65,-1.14, -.128,-1.14, -.026,-.54, -.305,.26, -.204,.56, -.219,1.36, -.204,2.16]
L68_f_c = [-1.118,-.59, -.89,-.19, -.585,-.09, -.229,-.24, -.102,-.54, -.204,-.89, -.585,-1.04, -.991,-.89]
P95_f_c = [-.89,2.16, -.864,1.66, -.686,1.16, -.813,.61, -.813,.26, -1.245,-.19, -1.65,-.34, -1.65,-1.14, -.128,-1.14, -.026,-.54, -.28,.06, -.305,.26, -.204,.76, -.28,1.36, -.305,2.16]
P68_f_c = [-1.027,-.54, -.839,-.36, -.559,-.29, -.28,-.36, -.204,-.59, -.305,-.84, -.585,-.92, -.89,-.79]
L95_f_psi = [.24,1.61, 1.43,1.86, 2.14,2.01, 5.32,2.06, 5.32,-1.14, 4.68,-1.14, 3.1,-.79, 1.98,-.34, 1.32,.16, 1.59,.51, 1.9,.76, 1.7,1.51, 1.27,1.51, 1.11,1.21, .79,.96, .71,1.21, .95,1.36, .56,1.41]
L68_f_psi = [2.94,-.34, 3.73,-.24, 5.32,-.14, 5.32,-1.14, 4.68,-1.04, 3.57,-.79]
P95_f_psi = [3.02,2.06, 5.32,2.06, 5.32,-1.14, 4.68,-1.14, 3.1,-.79, 1.98,-.34, 1.32,.16, 1.51,.36, 2.3,.41, 2.46,.76, 1.98,.91, 1.75,1.51, 1.9,1.81, 2.62,1.71]
P95_f_psi_b = [.56,1.51, .95,1.66, 1.32,1.46, .71,1.28]
P95_f_psi_c = [1.22,.71, 1.43,.84, 1.67,.71, 1.43,.58]
P95_f_psi_d = [1.38,1.96, 1.54,2.0, 1.7,1.91, 1.51,1.84]
P68_f_psi = [3.49,-.49, 4.05,-.39, 5.32,-.42, 5.32,-1.14, 4.68,-.94, 3.81,-.69]
G_f_psi = [3.1,1.96, 3.57,1.91, 3.97,1.51, 4.05,1.36, 3.57,1.36, 2.78,1.01, 2.62,1.16, 3.17,1.51]
G_f_psi_b = [2.94,.71, 3.25,.61, 3.73,.26, 3.89,.11, 3.33,.11, 2.75,.41]
G_f_psi_c = [1.67,.66, 1.9,.78, 2.38,.46, 1.67,.36]
W_f_psi = [4.13,1.71, 4.52,1.61, 4.84,1.06, 4.36,1.01, 4.13,1.36]
W_f_psi_b = [4.52,.66, 5.0,.86, 5.32,.76, 5.32,.36, 4.68,.36]
L95_f_a2 = [-1.07,2.06, 1.1,2.06, 1.1,.56, .73,.66, .73,.96, .57,.96, .41,1.21, .11,1.11, .05,.76, .44,.56, .18,.31, .37,.06, 1.1,.06, 1.1,-1.14, -.18,-1.14, -.18,-.44, -.25,-.64, -.31,-.69, -.45,-.89, -.87,-.89, -1.07,-.94]
LW_f_a2 = [-.31,1.61, .05,1.46, .11,.76, -.18,.81, -.38,1.06]
L68_f_a2 = [-.02,-1.14, -.02,-.49, .18,-.19, .64,-.04, 1.1,-.04, 1.1,-1.14]
P95_f_a2 = [-.81,2.16, .41,2.16, .41,1.46, .37,1.21, .11,1.21, .01,.76, -.35,.86, -.41,1.06, -.35,1.36, -.48,1.56, -.51,1.66, -.74,1.66]
P95_f_a2_b = [-1.07,1.11, -.87,1.06, -.48,1.06, -.35,.86, -.45,.46, -.38,.06, -.33,-.64, -.54,-.86, -.87,-.82, -1.07,-.79]
P95_f_a2_c = [-1.07,2.06, -.81,2.06, -.74,1.66, -.51,1.61, -.48,1.51, -.87,1.36, -1.07,1.41]
P95_f_a2_d = [.5,1.21, .7,1.36, .8,1.26, .8,1.01, .64,.96, .5,1.06]
P95_f_a2_e = [.77,2.0, 1.1,1.91, 1.1,1.71, .87,1.76]
P95_f_a2_f = [.65,.61, 1.1,.66, 1.1,.36, .7,.38]
P95_f_a2_g = [.37,.41, .57,.31, .7,.11, .41,.11]
P95_f_a2_h = [-.15,-1.14, -.15,-.34, -.02,.01, 1.1,.11, 1.1,-1.14]
P68_f_a2 = [.14,-.69, .31,-.44, .57,-.34, 1.0,-.42, .7,-.74, .37,-.92, .18,-.86]

# ---------- styles ----------
FIG_W, FIG_H = 1200, 1207
col_edges = [70, 172, 274, 376, 477.5, 579.5, 681.5, 783, 885, 987, 1088, 1190]
row_edges = [9, 111, 213, 314.5, 416.5, 518.5, 620, 722, 824, 925.5, 1027, 1129]
GREEN = "#228B22"
PURPLE = "#4F1FB0"
FILL = {"L95": "rgb(144,238,144)", "L68": "rgb(114,161,116)",
        "P95": "rgba(148,82,255,0.72)", "P68": "rgba(45,55,25,0.42)"}
EDGE = {"L95": GREEN, "L68": "#16331a", "P95": PURPLE, "P68": "#1c1040"}
font = "DejaVu Sans"

fig = go.Figure()
names = list(globals().keys())


def poly(flat, fill, edge, ax):
    xs = flat[0::2] + flat[:1]
    ys = flat[1::2] + flat[1:2]
    smooth = 1.2 if len(flat) <= 20 else 0.95
    fig.add_trace(go.Scatter(x=xs, y=ys, mode="lines", fill="toself", fillcolor=fill,
                             line=dict(color=edge, width=1.1, shape="spline", smoothing=smooth),
                             hoverinfo="skip", showlegend=False, xaxis=ax[0], yaxis=ax[1]))


def parts(prefix):
    return [globals()[n] for n in sorted(names) if n == prefix or n.startswith(prefix + "_")
            and len(n) == len(prefix) + 2]


n_axes = 0
layout_axes = {}
for r, rk in enumerate(params):
    for c, ck in enumerate(params[:r + 1]):
        n_axes += 1
        sx = "" if n_axes == 1 else str(n_axes)
        ax = ("x" + sx, "y" + sx)
        bottom = r == len(params) - 1
        left = c == 0 and r > 0
        layout_axes["xaxis" + sx] = dict(
            domain=[col_edges[c] / FIG_W, col_edges[c + 1] / FIG_W], anchor=ax[1], range=[lo_vals[c], hi_vals[c]],
            showgrid=False, zeroline=False, showline=True, mirror=True, linecolor="#111", linewidth=1.3,
            tickmode="array", tickvals=tick_vals[c] if bottom else [], ticktext=tick_text[c] if bottom else [],
            ticks="outside" if bottom else "", ticklen=5, tickwidth=1, tickcolor="#111", tickangle=-45,
            ticklabelshift=14, showticklabels=bottom, tickfont=dict(family=font, size=14, color="#111"))
        is_diag = r == c
        layout_axes["yaxis" + sx] = dict(
            domain=[1 - row_edges[r + 1] / FIG_H, 1 - row_edges[r] / FIG_H], anchor=ax[0],
            range=[0, 1] if is_diag else [lo_vals[r], hi_vals[r]],
            showgrid=False, zeroline=False, showline=True, mirror=True, linecolor="#111", linewidth=1.3,
            tickmode="array", tickvals=tick_vals[r] if left else [], ticktext=tick_text[r] if left else [],
            ticks="outside" if left else "", ticklen=5, tickwidth=1, tickcolor="#111", tickangle=-45,
            ticklabelshift=3, showticklabels=left, tickfont=dict(family=font, size=14, color="#111"))
        if is_diag:
            xg = globals()["X_" + rk]
            for key, col, shade, band in (("LD_", GREEN, "rgba(34,139,34,0.17)", band_L[r]),
                                          ("PD_", PURPLE, "rgba(81,30,190,0.17)", band_P[r])):
                yg = globals()[key + rk]
                if yg is None:
                    continue
                xs = [v for v in xg if band[0] - 1e-9 <= v <= band[1] + 1e-9]
                ys = [y for v, y in zip(xg, yg) if band[0] - 1e-9 <= v <= band[1] + 1e-9]
                fig.add_trace(go.Scatter(x=xs, y=ys, mode="lines", fill="tozeroy", fillcolor=shade,
                                         line=dict(width=0, shape="spline", color=shade), hoverinfo="skip",
                                         showlegend=False, xaxis=ax[0], yaxis=ax[1]))
            for key, col in (("LD_", GREEN), ("PD_", PURPLE)):
                yg = globals()[key + rk]
                if yg is None:
                    continue
                fig.add_trace(go.Scatter(x=xg, y=yg, mode="lines", hoverinfo="skip", showlegend=False,
                                         line=dict(color=col, width=1.3, shape="spline", smoothing=1),
                                         xaxis=ax[0], yaxis=ax[1]))
            continue
        tag = f"{rk}_{ck}"
        for p in parts("L95_" + tag):
            poly(p, FILL["L95"], EDGE["L95"], ax)
        for p in parts("LW_" + tag):
            poly(p, "white", GREEN, ax)
        for p in parts("L68_" + tag):
            poly(p, FILL["L68"], EDGE["L68"], ax)
        for p in parts("P95_" + tag):
            poly(p, FILL["P95"], EDGE["P95"], ax)
        for p in parts("P68_" + tag):
            poly(p, FILL["P68"], EDGE["P68"], ax)
        for p in parts("G_" + tag):
            poly(p, FILL["L95"], GREEN, ax)
        for p in parts("W_" + tag):
            poly(p, "white", GREEN, ax)

ann = []
for i, (px, py) in enumerate(x_label_pos):
    ann.append(dict(text=labels[i], x=px / FIG_W, y=1 - py / FIG_H, xref="paper", yref="paper", showarrow=False,
                    xanchor="center", yanchor="middle", font=dict(family=font, size=15.5, color="#111")))
for i, pos in enumerate(y_label_pos):
    if pos is None:
        continue
    ann.append(dict(text=labels[i], x=pos[0] / FIG_W, y=1 - pos[1] / FIG_H, xref="paper", yref="paper",
                    showarrow=False, textangle=-90, xanchor="center", yanchor="middle",
                    font=dict(family=font, size=15.5, color="#111")))
ann.append(dict(text="LDDE", x=707 / FIG_W, y=1 - 532 / FIG_H, xref="paper", yref="paper", showarrow=False,
                xanchor="left", yanchor="middle", font=dict(family=font, size=17, color=GREEN)))
ann.append(dict(text="PDE", x=707 / FIG_W, y=1 - 557 / FIG_H, xref="paper", yref="paper", showarrow=False,
                xanchor="left", yanchor="middle", font=dict(family=font, size=17, color=PURPLE)))

fig.update_layout(width=FIG_W, height=FIG_H, margin=dict(l=0, r=0, t=0, b=0, autoexpand=False), paper_bgcolor="white",
                  plot_bgcolor="white", showlegend=False, annotations=ann, **layout_axes)
fig.write_html("out.html", config={"displayModeBar": False},
               post_script="document.body.style.margin='0';document.body.style.overflow='hidden';")
